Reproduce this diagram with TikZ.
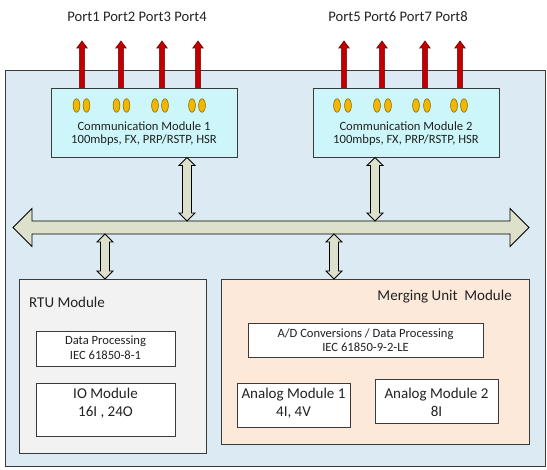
\documentclass[tikz,border=0pt]{standalone}
\usepackage{fontspec}
\setmainfont{Carlito}
\usetikzlibrary{calc,shapes.geometric}
\definecolor{outerfill}{HTML}{DBEAF3}
\definecolor{cmfill}{HTML}{CCF6FA}
\definecolor{busfill}{HTML}{DDE1CB}
\definecolor{rtufill}{HTML}{F2F2F2}
\definecolor{mufill}{HTML}{FDE9DA}
\definecolor{portred}{HTML}{C00000}
\definecolor{portdark}{HTML}{7A0000}
\definecolor{ovalfill}{HTML}{F2B700}
\definecolor{ovaldraw}{HTML}{8A6A00}
\definecolor{edge}{HTML}{3A3A3A}
\definecolor{txt}{HTML}{222222}
\tikzset{
  boxbase/.style={draw=edge, line width=0.9pt, inner sep=0pt, anchor=north west},
  outerbox/.style={boxbase, fill=outerfill},
  cmbox/.style={boxbase, fill=cmfill},
  rtubox/.style={boxbase, fill=rtufill},
  mubox/.style={boxbase, fill=mufill},
  whitebox/.style={boxbase, fill=white},
  smalltxt/.style={text=txt, align=center, font=\fontsize{12.6}{13.5}\selectfont, inner sep=0pt},
  bigtxt/.style={text=txt, align=center, font=\fontsize{15}{18}\selectfont, inner sep=0pt},
  oval/.style={ellipse, draw=ovaldraw, line width=0.6pt, fill=ovalfill, minimum width=6.8pt, minimum height=13.5pt, inner sep=0pt},
  busarrow/.style={draw=black, line width=0.8pt, fill=busfill, line join=miter},
  portarrow/.style={draw=portdark, line width=0.6pt, fill=portred, line join=miter},
}
\newcommand{\vdarrow}[3]{% x, ytop, ybot
  \draw[busarrow] (#1,#2) -- (#1+8,#2+8) -- (#1+4.5,#2+8) -- (#1+4.5,#3-8) -- (#1+8,#3-8)
    -- (#1,#3) -- (#1-8,#3-8) -- (#1-4.5,#3-8) -- (#1-4.5,#2+8) -- (#1-8,#2+8) -- cycle;}
\newcommand{\portarrow}[1]{% x
  \draw[portarrow] (#1-2.6,90) -- (#1-2.6,48) -- (#1-5.2,48) -- (#1,41) -- (#1+5.2,48) -- (#1+2.6,48) -- (#1+2.6,90) -- cycle;}
\begin{document}
\begin{tikzpicture}[x=1pt,y=-1pt]
\useasboundingbox (0,0) rectangle (547,470);

% outer enclosure
\node[outerbox, minimum width=540pt, minimum height=396pt] (outer) at (5,70) {};

% port labels
\node[text=txt, font=\fontsize{14.6}{16}\selectfont, inner sep=0pt] (p14) at (137,17) {Port1 Port2 Port3 Port4};
\node[text=txt, font=\fontsize{14.6}{16}\selectfont, inner sep=0pt] (p58) at (398,17) {Port5 Port6 Port7 Port8};

% port arrows
\foreach \px in {82,121,162,198,344,382,425,460} {\portarrow{\px}}

% communication modules
\node[cmbox, minimum width=186pt, minimum height=69pt] (cm1) at (51,88) {};
\node[cmbox, minimum width=186pt, minimum height=69pt] (cm2) at (313,88) {};
\node[smalltxt, font=\fontsize{12.6}{13}\selectfont] (cm1t) at (144,133.5) {Communication Module 1\\100mbps, FX, PRP/RSTP, HSR};
\node[smalltxt, font=\fontsize{12.6}{13}\selectfont] (cm2t) at (406,133.5) {Communication Module 2\\100mbps, FX, PRP/RSTP, HSR};

% ovals
\foreach \ox [count=\i] in {76.5,86.5,116.5,126.5,155,165,192,202,337,348,377,388,416,427,454,464} {
  \node[oval] (ov\i) at (\ox,105.5) {};
}

% bus
\coordinate (busL) at (13,227.5);
\coordinate (busR) at (529,227.5);
\draw[busarrow] (busL) -- (32,208.5) -- (32,221) -- (510,221) -- (510,208.5) -- (busR)
  -- (510,246.5) -- (510,234) -- (32,234) -- (32,246.5) -- cycle;

% vertical connectors
\vdarrow{187}{157.5}{221}
\vdarrow{375}{157.5}{221}
\vdarrow{105}{234}{279}
\vdarrow{334}{234}{279}

% RTU module
\node[rtubox, minimum width=187pt, minimum height=174pt] (rtu) at (19,279) {};
\node[bigtxt, anchor=west] (rtut) at (29,302) {RTU Module};
\node[whitebox, minimum width=139pt, minimum height=35pt] (dp) at (36,331) {};
\node[smalltxt, font=\fontsize{12.6}{15}\selectfont] (dpt) at (105.5,348) {Data Processing\\IEC 61850-8-1};
\node[whitebox, minimum width=139pt, minimum height=53pt] (io) at (36,383) {};
\node[bigtxt] (iot) at (105.5,403.5) {IO Module\\16I , 24O};

% Merging unit module
\node[mubox, minimum width=308pt, minimum height=165pt] (mu) at (221,279) {};
\node[bigtxt, anchor=east] (mut) at (512,297) {Merging Unit\ \ Module};
\node[whitebox, minimum width=235pt, minimum height=34pt] (ad) at (248,323) {};
\node[smalltxt, font=\fontsize{12.6}{14.5}\selectfont] (adt) at (365.5,340) {A/D Conversions / Data Processing\\IEC 61850-9-2-LE};
\node[whitebox, minimum width=113pt, minimum height=44pt] (am1) at (237,383) {};
\node[bigtxt] (am1t) at (293.5,403) {Analog Module 1\\4I, 4V};
\node[whitebox, minimum width=123pt, minimum height=44pt] (am2) at (375,379) {};
\node[bigtxt] (am2t) at (436.5,402.5) {Analog Module 2\\8I};
\end{tikzpicture}
\end{document}
